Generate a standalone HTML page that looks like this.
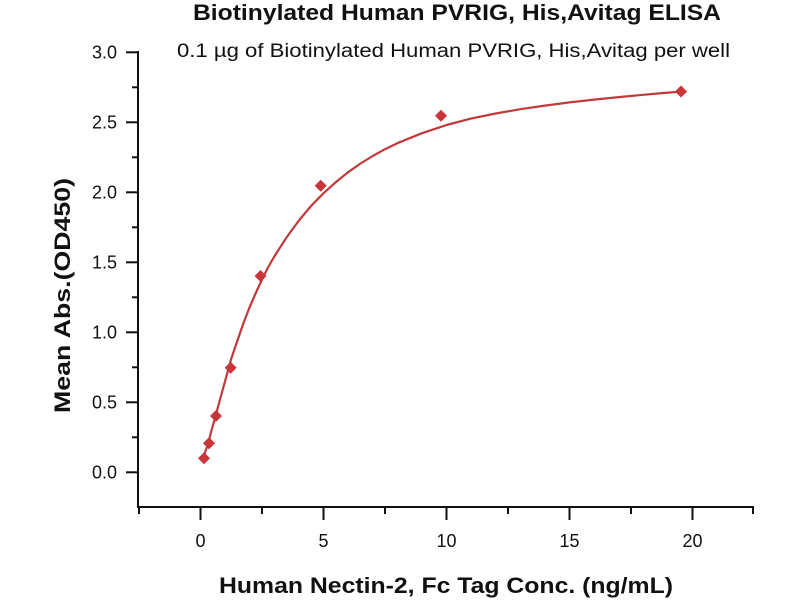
<!DOCTYPE html>
<html>
<head>
<meta charset="utf-8">
<style>
html,body{margin:0;padding:0;background:#fff;}
svg{display:block;}
text{font-family:"Liberation Sans",Arial,sans-serif;fill:#111;}
</style>
</head>
<body>
<svg width="800" height="600" viewBox="0 0 800 600" xmlns="http://www.w3.org/2000/svg">
  <rect width="800" height="600" fill="#fff"/>
  <!-- Titles -->
  <text x="193" y="20" font-size="22" font-weight="bold" textLength="528" lengthAdjust="spacingAndGlyphs">Biotinylated Human PVRIG, His,Avitag ELISA</text>
  <text x="177" y="57" font-size="19" textLength="553" lengthAdjust="spacingAndGlyphs">0.1 µg of Biotinylated Human PVRIG, His,Avitag per well</text>

  <!-- Axes -->
  <g stroke="#111" stroke-width="2" fill="none">
    <line x1="138" y1="51" x2="138" y2="508"/>
    <line x1="137" y1="507" x2="754" y2="507"/>
    <!-- y major ticks -->
    <line x1="126" y1="52.3" x2="138" y2="52.3"/>
    <line x1="126" y1="122.3" x2="138" y2="122.3"/>
    <line x1="126" y1="192.3" x2="138" y2="192.3"/>
    <line x1="126" y1="262.3" x2="138" y2="262.3"/>
    <line x1="126" y1="332.3" x2="138" y2="332.3"/>
    <line x1="126" y1="402.3" x2="138" y2="402.3"/>
    <line x1="126" y1="472.3" x2="138" y2="472.3"/>
    <!-- y minor ticks -->
    <line x1="132" y1="87.3" x2="138" y2="87.3"/>
    <line x1="132" y1="157.3" x2="138" y2="157.3"/>
    <line x1="132" y1="227.3" x2="138" y2="227.3"/>
    <line x1="132" y1="297.3" x2="138" y2="297.3"/>
    <line x1="132" y1="367.3" x2="138" y2="367.3"/>
    <line x1="132" y1="437.3" x2="138" y2="437.3"/>
    <!-- x major ticks -->
    <line x1="200.5" y1="507" x2="200.5" y2="520"/>
    <line x1="323.5" y1="507" x2="323.5" y2="520"/>
    <line x1="446.5" y1="507" x2="446.5" y2="520"/>
    <line x1="569.5" y1="507" x2="569.5" y2="520"/>
    <line x1="692.5" y1="507" x2="692.5" y2="520"/>
    <!-- x minor ticks -->
    <line x1="139" y1="507" x2="139" y2="514"/>
    <line x1="262" y1="507" x2="262" y2="514"/>
    <line x1="385" y1="507" x2="385" y2="514"/>
    <line x1="508" y1="507" x2="508" y2="514"/>
    <line x1="631" y1="507" x2="631" y2="514"/>
    <line x1="753" y1="507" x2="753" y2="514"/>
  </g>

  <!-- y tick labels -->
  <g font-size="18" text-anchor="end">
    <text x="117" y="58.5">3.0</text>
    <text x="117" y="128.5">2.5</text>
    <text x="117" y="198.5">2.0</text>
    <text x="117" y="268.5">1.5</text>
    <text x="117" y="338.5">1.0</text>
    <text x="117" y="408.5">0.5</text>
    <text x="117" y="478.5">0.0</text>
  </g>
  <!-- x tick labels -->
  <g font-size="18" text-anchor="middle">
    <text x="200.5" y="547">0</text>
    <text x="323.5" y="547">5</text>
    <text x="446.5" y="547">10</text>
    <text x="569.5" y="547">15</text>
    <text x="692.5" y="547">20</text>
  </g>

  <!-- axis labels -->
  <text x="219" y="593" font-size="22" font-weight="bold" textLength="454" lengthAdjust="spacingAndGlyphs">Human Nectin-2, Fc Tag Conc. (ng/mL)</text>
  <text transform="translate(70,413) rotate(-90)" x="0" y="0" font-size="22" font-weight="bold" textLength="235" lengthAdjust="spacingAndGlyphs">Mean Abs.(OD450)</text>

  <!-- fitted curve -->
  <path fill="none" stroke="#c0393b" stroke-width="2.2" stroke-linejoin="round" stroke-linecap="round"
    d="M203.3,458.5 L205.5,451 L207.9,444.2 L211.5,430.5 L215.3,417.0 L220,399.5 L225.1,381.0 L231,359.5 L237.4,340.6 L243.5,323 L249.7,307.0 L256,292.5 L262.0,279.5 L268,267.5 L274.3,256.5 L286.5,237.5 L298.9,220.5 L311,206 L323.5,193.2 L336,182 L348.1,172.2 L360.5,163.5 L372.7,156 L385,149.2 L397.3,143.2 L422,133.2 L446.5,125 L471,118.6 L495.7,113.5 L520.3,109.2 L544.9,105.6 L569.5,102.4 L594.1,99.6 L618.7,97.1 L643.3,94.8 L662,93.1 L680.9,91.6"/>

  <!-- data markers -->
  <g fill="#c8353a">
    <path d="M204,452.3 l6,6 l-6,6 l-6,-6z"/>
    <path d="M209,437.3 l6,6 l-6,6 l-6,-6z"/>
    <path d="M216,410 l6,6 l-6,6 l-6,-6z"/>
    <path d="M230.7,361.7 l6,6 l-6,6 l-6,-6z"/>
    <path d="M260.5,270 l6,6 l-6,6 l-6,-6z"/>
    <path d="M320.7,179.7 l6,6 l-6,6 l-6,-6z"/>
    <path d="M441,109.7 l6,6 l-6,6 l-6,-6z"/>
    <path d="M681,85.5 l6,6 l-6,6 l-6,-6z"/>
  </g>
</svg>
</body>
</html>
